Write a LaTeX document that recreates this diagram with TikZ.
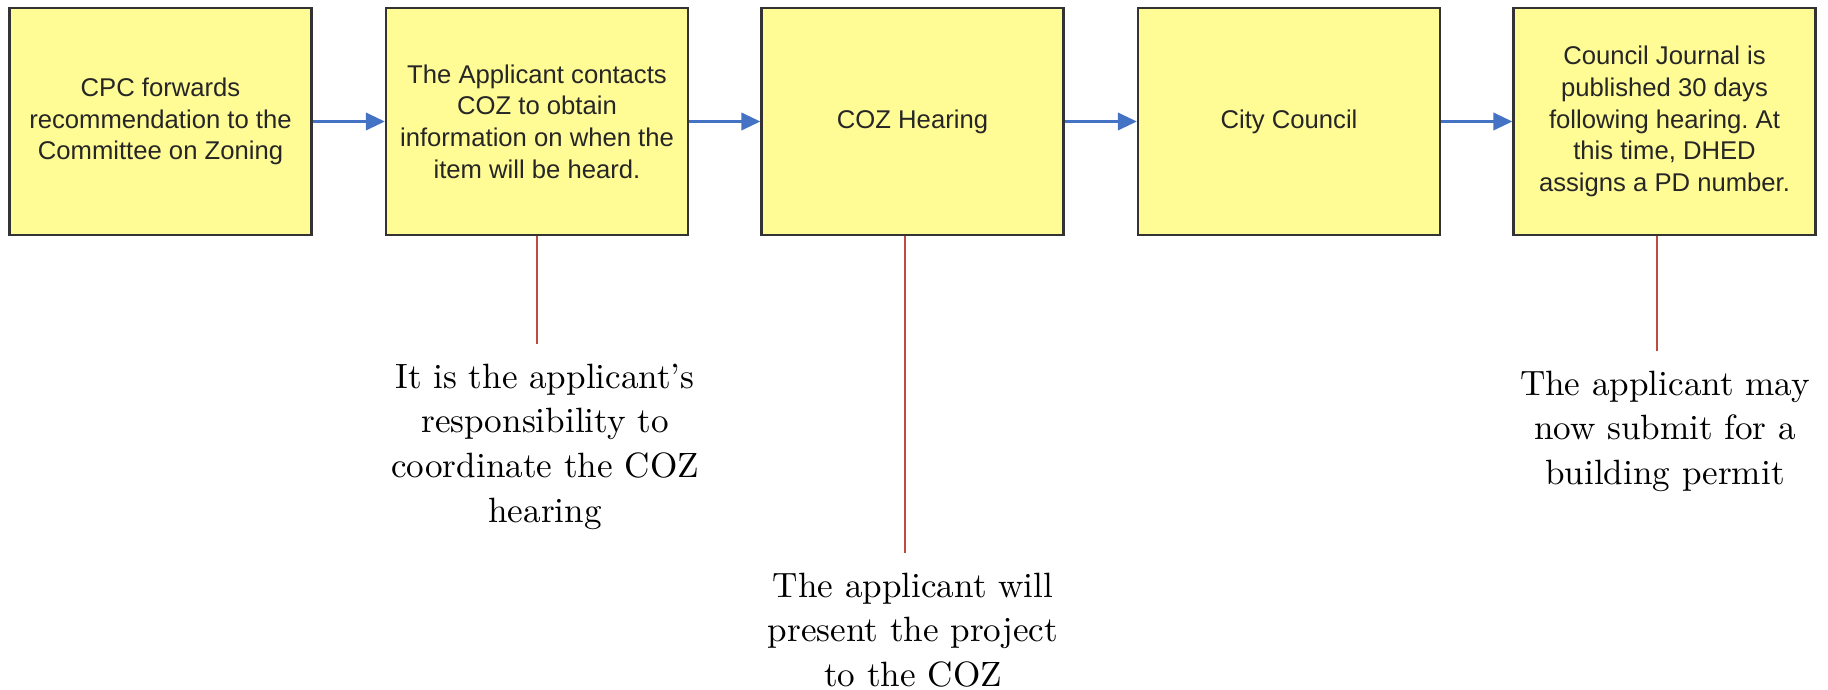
\documentclass[tikz,border=0pt]{standalone}
\usepackage{fontspec}
\newfontfamily\boxfont{Liberation Sans}
\usepackage{xcolor}
\definecolor{stepyellow}{RGB}{255,252,150}
\definecolor{flowblue}{RGB}{68,114,196}
\definecolor{notered}{RGB}{190,75,60}
\usepackage{tikz}
\usetikzlibrary{arrows.meta,positioning}
\frenchspacing

\tikzset{
  stepbox/.style={draw=black!80, line width=0.7pt, fill=stepyellow, minimum width=3.02cm, minimum height=2.27cm, inner sep=0pt, align=center, font=\boxfont\fontsize{7.3}{9}\selectfont, text=black!85},
  flow/.style={draw=flowblue, line width=0.6pt, -{Triangle[length=5.4pt,width=5pt]}},
  note/.style={font=\fontsize{10}{12.8}\selectfont, align=center, inner sep=0pt, outer ysep=0.2cm, anchor=north},
  noteline/.style={draw=notered, line width=0.45pt}
}

\begin{document}
\begin{tikzpicture}
  \useasboundingbox (0,0) rectangle (18.28,6.89);

  % Steps
  \node[stepbox] (cpc) at (1.605,5.675) {CPC forwards\\recommendation to the\\Committee on Zoning};
  \node[stepbox] (contact) at (5.37,5.675) {The Applicant contacts\\COZ to obtain\\information on when the\\item will be heard.};
  \node[stepbox] (hearing) at (9.125,5.675) {COZ Hearing};
  \node[stepbox] (council) at (12.89,5.675) {City Council};
  \node[stepbox] (journal) at (16.645,5.675) {Council Journal is\\published 30 days\\following hearing. At\\this time, DHED\\assigns a PD number.};

  % Flow
  \draw[flow] (cpc) -- (contact);
  \draw[flow] (contact) -- (hearing);
  \draw[flow] (hearing) -- (council);
  \draw[flow] (council) -- (journal);

  % Notes
  \node[note] (respnote) at (5.45,3.454) {It is the applicant’s\\responsibility to\\coordinate the COZ\\hearing};
  \node[note] (presnote) at (9.13,1.364) {The applicant will\\present the project\\to the COZ};
  \node[note] (permnote) at (16.65,3.384) {The applicant may\\now submit for a\\building permit};

  \draw[noteline] (contact.south) -- (contact.south |- respnote.north);
  \draw[noteline] ([xshift=-0.075cm]hearing.south) -- ([xshift=-0.075cm]hearing.south |- presnote.north);
  \draw[noteline] ([xshift=-0.075cm]journal.south) -- ([xshift=-0.075cm]journal.south |- permnote.north);
\end{tikzpicture}
\end{document}
